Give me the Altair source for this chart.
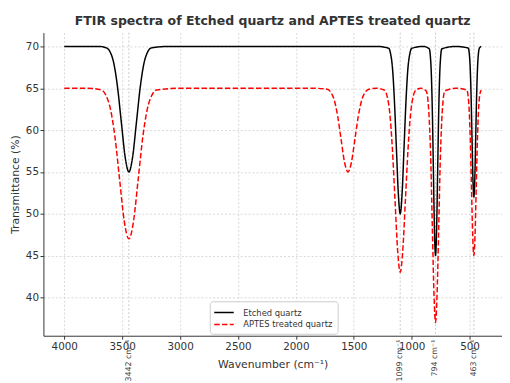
import altair as alt
import pandas as pd

# ---- data ----
series_names = ["Etched quartz", "APTES treated quartz"]
series_colors = ["black", "red"]
series_dash = [[1, 0], [5.5, 2.4]]

etched_wn = [4000, 3700,
             3637, 3604, 3572, 3540, 3507, 3474, 3442, 3410, 3377, 3344, 3312, 3280, 3247,
             3100, 1300,
             1198, 1182, 1165, 1149, 1132, 1115, 1099, 1083, 1066, 1049, 1033, 1016, 1000,
             900,
             848, 839, 830, 821, 812, 803, 794, 785, 776, 767, 758, 749, 740,
             620,
             511, 503, 495, 487, 479, 471, 463, 455, 447, 439, 431, 423, 415,
             400]
etched_T = [70, 70,
            69.83, 69.34, 67.97, 65.13, 60.90, 56.76, 55, 56.76, 60.90, 65.13, 67.97, 69.34, 69.83,
            70, 70,
            69.78, 69.12, 67.29, 63.51, 57.87, 52.35, 50, 52.35, 57.87, 63.51, 67.29, 69.12, 69.78,
            70,
            69.72, 68.90, 66.62, 61.88, 54.84, 47.94, 45, 47.94, 54.84, 61.88, 66.62, 68.90, 69.72,
            70,
            69.8, 69.21, 67.56, 64.16, 59.08, 54.11, 52, 54.11, 59.08, 64.16, 67.56, 69.21, 69.8,
            70]

aptes_wn = [4000, 3800,
            3682, 3642, 3602, 3562, 3522, 3482, 3442, 3402, 3362, 3322, 3282, 3242, 3202,
            3000, 1850,
            1730, 1700, 1670, 1640, 1610, 1580, 1550, 1520, 1490, 1460, 1430, 1400, 1370,
            1300,
            1234, 1212, 1189, 1167, 1144, 1121, 1099, 1077, 1054, 1031, 1009, 987, 964,
            920,
            875, 861, 848, 834, 821, 807, 794, 781, 767, 754, 740, 727, 713,
            620,
            523, 513, 503, 493, 483, 473, 463, 453, 443, 433, 423, 413, 400]
aptes_T = [65, 65,
           64.8, 64.21, 62.56, 59.16, 54.08, 49.11, 47, 49.11, 54.08, 59.16, 62.56, 64.21, 64.8,
           65, 65,
           64.89, 64.56, 63.65, 61.75, 58.93, 56.17, 55, 56.17, 58.93, 61.75, 63.65, 64.56, 64.89,
           65,
           64.76, 64.03, 62.02, 57.86, 51.66, 45.58, 43, 45.58, 51.66, 57.86, 62.02, 64.03, 64.76,
           65,
           64.69, 63.77, 61.21, 55.91, 48.02, 40.29, 37, 40.29, 48.02, 55.91, 61.21, 63.77, 64.69,
           65,
           64.78, 64.12, 62.29, 58.51, 52.87, 47.35, 45, 47.35, 52.87, 58.51, 62.29, 64.12, 64.78]

peak_wn = [3442, 1099, 794, 463]
peak_labels = ["3442 cm⁻¹", "1099 cm⁻¹", "794 cm⁻¹", "463 cm⁻¹"]

x_ticks = [4000, 3500, 3000, 2500, 2000, 1500, 1000, 500]
y_ticks = [40, 45, 50, 55, 60, 65, 70]

# ---- build tables ----
df = pd.concat([
    pd.DataFrame({"wn": etched_wn, "T": etched_T, "series": series_names[0]}),
    pd.DataFrame({"wn": aptes_wn, "T": aptes_T, "series": series_names[1]}),
], ignore_index=True)
peaks_df = pd.DataFrame({"wn": peak_wn, "label": peak_labels})

W, H = 466, 308
FONT = "DejaVu Sans"
TXT = "#333333"

x_scale = alt.Scale(domain=[220, 4180], reverse=True, nice=False, zero=False)
y_scale = alt.Scale(domain=[35.42, 71.65], nice=False, zero=False)

grid_kw = dict(grid=True, gridColor="#cfcfcf", gridDash=[2, 2], gridWidth=0.8,
               tickSize=3.5, tickColor=TXT, domainColor=TXT, domainWidth=1,
               labelFontSize=10.5, labelColor=TXT, labelFont=FONT,
               titleFontSize=11, titleFontWeight="normal", titleColor=TXT, titleFont=FONT)

x_axis = alt.Axis(values=x_ticks, format="d", title="Wavenumber (cm⁻¹)",
                  labelPadding=2, titlePadding=7, labelFlush=False, **grid_kw)
y_axis = alt.Axis(values=y_ticks, title="Transmittance (%)",
                  labelPadding=1.5, titlePadding=5, **grid_kw)

legend = alt.Legend(title=None, orient="none", legendX=169, legendY=273,
                    symbolType="M-1.8,0L1.8,0", symbolSize=121, symbolStrokeWidth=1.5,
                    symbolOffset=3,
                    labelFontSize=8.5, labelFont=FONT, labelColor=TXT, labelOffset=13,
                    padding=5, strokeColor="#cccccc", cornerRadius=3,
                    fillColor="rgba(255,255,255,0.85)", rowPadding=1)

rules = alt.Chart(peaks_df).mark_rule(color="#bdbdbd", strokeDash=[2, 2], strokeWidth=0.8).encode(
    x=alt.X("wn:Q", scale=x_scale, axis=x_axis)
)

lines = alt.Chart(df).mark_line(interpolate="monotone", strokeWidth=1.5).encode(
    x=alt.X("wn:Q", scale=x_scale, axis=x_axis),
    y=alt.Y("T:Q", scale=y_scale, axis=y_axis),
    color=alt.Color("series:N", scale=alt.Scale(domain=series_names, range=series_colors), legend=legend),
    strokeDash=alt.StrokeDash("series:N", scale=alt.Scale(domain=series_names, range=series_dash), legend=legend),
)

texts = alt.Chart(peaks_df).mark_text(angle=270, align="right", baseline="middle",
                                      fontSize=8, font=FONT, color="#444444").encode(
    x=alt.X("wn:Q", scale=x_scale),
    y=alt.value(H + 4),
    text="label:N",
)

chart = alt.layer(rules, lines, texts).properties(
    width=W, height=H,
    title=alt.Title("FTIR spectra of Etched quartz and APTES treated quartz",
                    fontSize=12.7, font=FONT, fontWeight="bold", color=TXT, offset=5, anchor="middle"),
    autosize=alt.AutoSizeParams(type="none"),
    padding={"left": 36, "top": 22, "right": 0, "bottom": 45},
).configure_view(stroke=None)

chart.save("out.html", embed_options={"renderer": "svg", "actions": False})
